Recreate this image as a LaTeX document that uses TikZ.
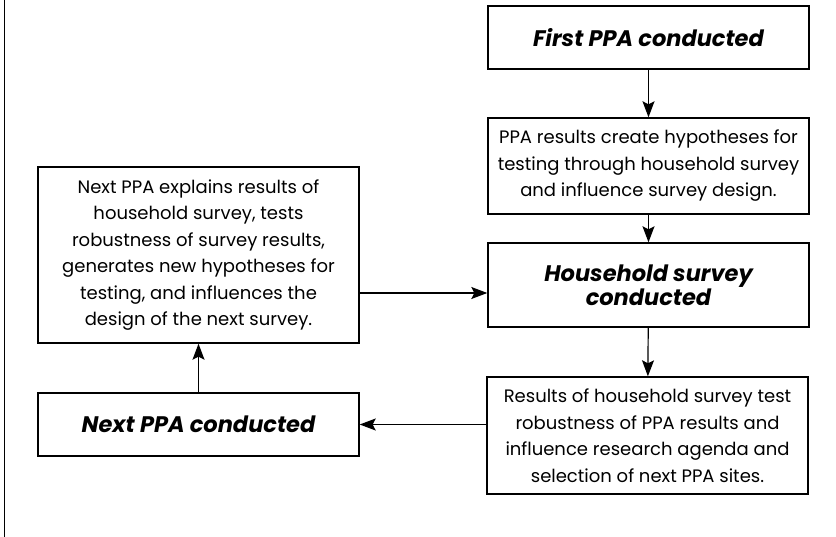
\documentclass[tikz,border=0pt]{standalone}
\usepackage{fontspec}
\setmainfont{Poppins}
\usepackage{tikz}
\usetikzlibrary{arrows.meta}

\tikzset{
    stagebox/.style={draw,line width=1.4pt,minimum width=321pt,align=center,inner sep=0pt,
        font=\fontsize{18}{26.5}\selectfont},
    headbox/.style={stagebox,font=\fontsize{22.5}{24}\selectfont\bfseries\itshape},
    flow/.style={line width=1.2pt,-{Stealth[length=16pt,width=12pt,inset=3pt]}}
}

\begin{document}
\begin{tikzpicture}[x=1pt,y=-1pt]
        \useasboundingbox (0,0) rectangle (836,537);
        \draw[line width=1pt] (4,0) -- (4,537);
        % right column
        \node[headbox,minimum height=63pt] (first) at (648.5,37.5) {First PPA conducted};
        \node[stagebox,minimum height=96pt] (hyp) at (648.5,166) {PPA results create hypotheses for\\testing through household survey\\and influence survey design.};
        \node[headbox,minimum height=84pt] (survey) at (648.5,285) {Household survey\\conducted};
        \node[stagebox,minimum height=117pt] (results) at (647.5,435.5) {Results of household survey test\\robustness of PPA results and\\influence research agenda and\\selection of next PPA sites.};
        % left column
        \node[stagebox,minimum height=176pt] (explains) at (198.5,255) {Next PPA explains results of\\household survey, tests\\robustness of survey results,\\generates new hypotheses for\\testing, and influences the\\design of the next survey.};
        \node[headbox,minimum height=63pt] (nextppa) at (198.5,424.5) {Next PPA conducted};

        \draw[flow] (first) -- (hyp);
        \draw[flow] (hyp) -- (survey);
        \draw[flow] (survey) -- (results);
        \draw[flow] (results.west |- nextppa.east) -- (nextppa.east);
        \draw[flow] (nextppa) -- (explains);
        \draw[flow] (explains.east |- 0,293) -- ([yshift=-8pt]survey.west);
\end{tikzpicture}
\end{document}
